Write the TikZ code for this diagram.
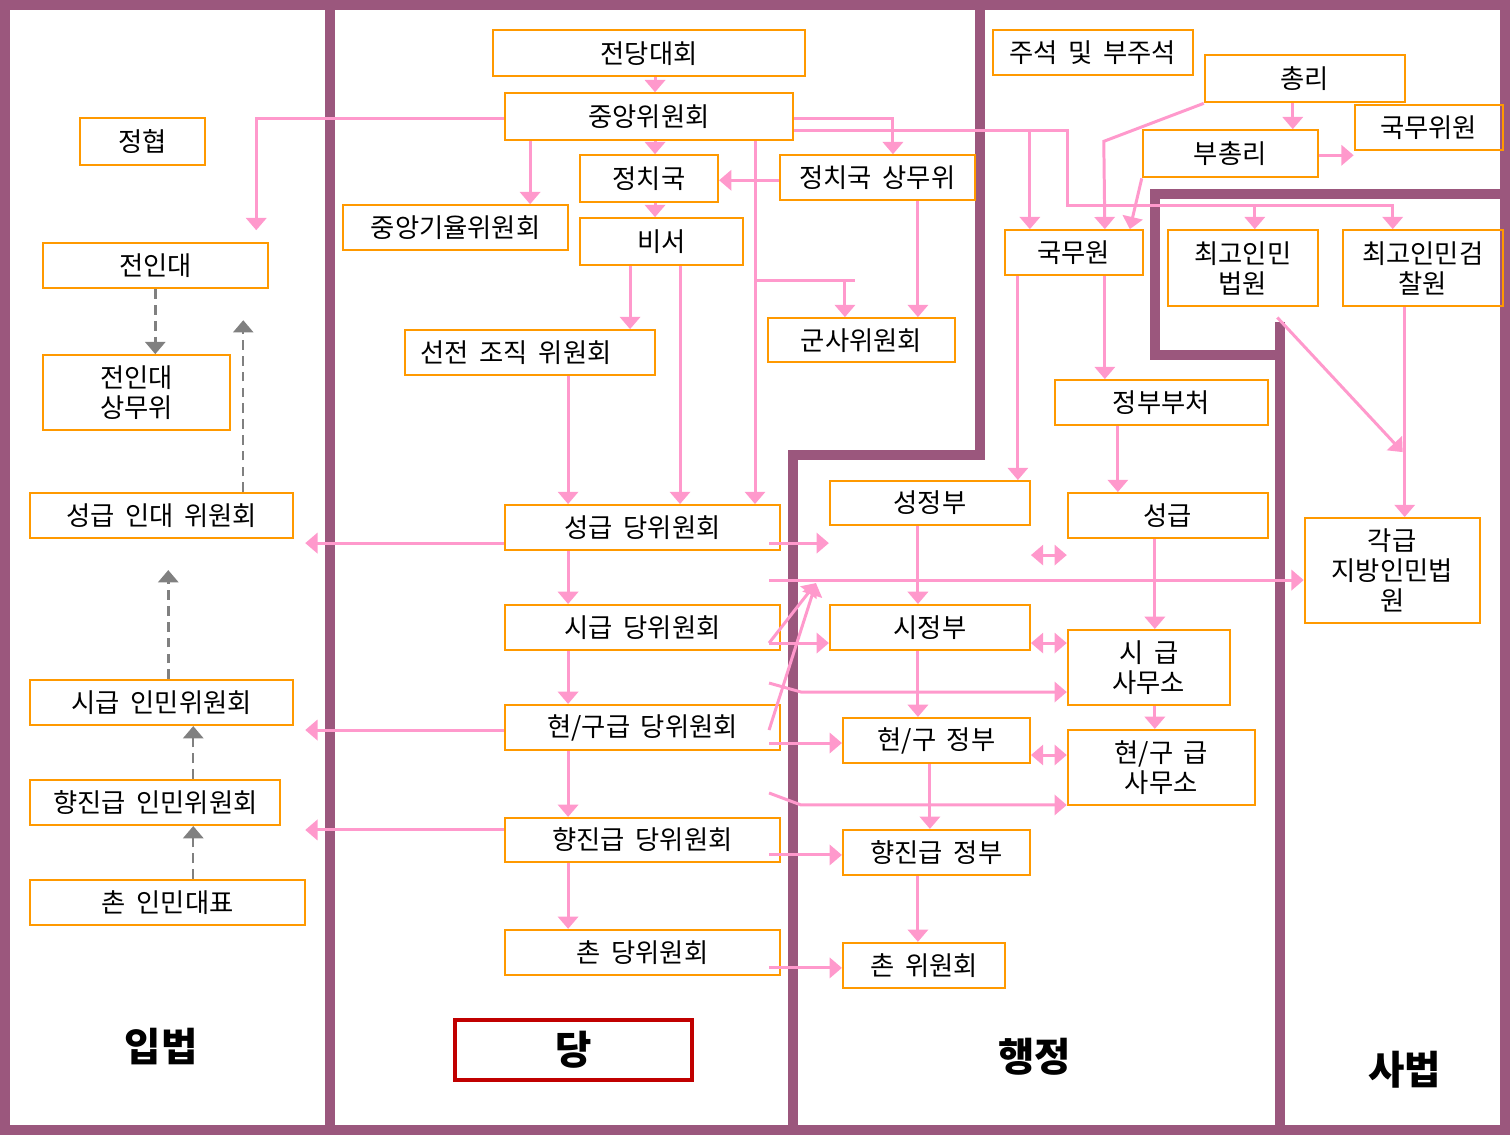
\documentclass[tikz,border=0pt]{standalone}
\usepackage{fontspec}
\setmainfont{Noto Sans CJK KR}[WordSpace=1.8]
\usepackage{tikz}
\usetikzlibrary{arrows.meta}

\definecolor{framepurple}{RGB}{155,87,125}
\definecolor{boxorange}{RGB}{255,153,0}
\definecolor{linkpink}{RGB}{255,153,204}
\definecolor{dashgray}{RGB}{128,128,128}
\definecolor{dangred}{RGB}{192,0,0}

\tikzset{
	box/.style={draw=boxorange, line width=1.2pt, inner sep=0pt, align=center, font=\fontsize{15pt}{17pt}\selectfont},
	branchlabel/.style={font=\fontsize{22.5pt}{26pt}\selectfont\bfseries},
	divider/.style={draw=framepurple, line width=5.7pt},
	pinkline/.style={draw=linkpink, line width=1.7pt},
	pinkarrow/.style={pinkline, -{Triangle[width=11.5pt,length=7pt]}},
	pinkboth/.style={pinkline, {Triangle[width=11.5pt,length=7pt]}-{Triangle[width=11.5pt,length=7pt]}},
	dasharrow/.style={draw=dashgray, line width=1.4pt, dash pattern=on 5.5pt off 3.5pt, -{Triangle[width=11.5pt,length=7pt]}},
}

\begin{document}
\begin{tikzpicture}[x=0.02cm, y=-0.02cm]
		\draw[use as bounding box, transparent] (0,0) rectangle (1510,1135);

		% Define the macro.
		% 1st argument: Name of the box.
		% 2nd and 3rd argument: Centre of the box (pixels, y downwards).
		% 4th and 5th argument: Width and height of the box.
		% 6th argument: Text inside the box.
		\newcommand{\orgBox}[6]{
			\node[box, minimum width=#4*0.02cm, minimum height=#5*0.02cm] (#1) at (#2,#3) {#6};
		}

		% FRAME
		\draw[divider] (5,5) rectangle (1505,1130);
		\draw[divider] (330,5) -- (330,1130);
		\draw[divider] (980,5) -- (980,455) -- (793,455) -- (793,1130);
		\draw[divider] (1505,194) -- (1155,194) -- (1155,355) -- (1280,355);
		\draw[divider] (1280,322) -- (1280,1130);

		% LEGISLATURE
		\orgBox{jeonghyeop}{142.5}{141.5}{125}{47}{정협}
		\orgBox{jeonindae}{155.5}{265.5}{225}{45}{전인대}
		\orgBox{indaesangmu}{136.5}{392.5}{187}{75}{전인대\\상무위}
		\orgBox{indae1}{161.5}{515.5}{263}{45}{성급 인대 위원회}
		\orgBox{inmin2}{161.5}{702.5}{263}{45}{시급 인민위원회}
		\orgBox{inmin3}{155}{802.5}{250}{45}{향진급 인민위원회}
		\orgBox{inmin4}{167.5}{902.5}{275}{45}{촌 인민대표}
		\node[branchlabel] (ipbeop) at (161,1047) {입법};

		% PARTY
		\orgBox{jeondang}{649}{53}{312}{46}{전당대회}
		\orgBox{jungang}{649}{116.5}{288}{47}{중앙위원회}
		\orgBox{jeongchi}{649}{178.5}{138}{47}{정치국}
		\orgBox{sangmu}{877.5}{177.5}{195}{45}{정치국 상무위}
		\orgBox{giyul}{455.5}{227.5}{225}{45}{중앙기율위원회}
		\orgBox{biseo}{661.5}{241.5}{163}{47}{비서}
		\orgBox{seonjeon}{530}{352.5}{250}{45}{선전 조직 위원회\hspace{0.56cm}}
		\orgBox{gunsa}{861.5}{340}{187}{44}{군사위원회}
		\orgBox{dang1}{642.5}{527.5}{275}{45}{성급 당위원회}
		\orgBox{dang2}{642.5}{627.5}{275}{45}{시급 당위원회}
		\orgBox{dang3}{642.5}{727.5}{275}{45}{현/구급 당위원회}
		\orgBox{dang4}{642.5}{840}{275}{44}{향진급 당위원회}
		\orgBox{dang5}{642.5}{952.5}{275}{45}{촌 당위원회}
		\node[draw=dangred, line width=2.2pt, minimum width=237*0.02cm, minimum height=60*0.02cm, branchlabel] (danglabel) at (573.5,1050) {당};

		% ADMINISTRATION
		\orgBox{juseok}{1093}{52.5}{200}{45}{주석 및 부주석}
		\orgBox{chongri}{1305}{78.5}{200}{47}{총리}
		\orgBox{gukmuwiwon}{1429}{127.5}{148}{45}{국무위원}
		\orgBox{buchongri}{1230.5}{153.5}{175}{47}{부총리}
		\orgBox{gukmuwon}{1074}{252.5}{138}{45}{국무원}
		\orgBox{bucheo}{1161.5}{402.5}{213}{45}{정부부처}
		\orgBox{seongjeongbu}{930}{503}{200}{44}{성정부}
		\orgBox{seonggeup}{1168}{515.5}{200}{45}{성급}
		\orgBox{sijeongbu}{930}{627.5}{200}{45}{시정부}
		\orgBox{sisamuso}{1149}{667.5}{162}{75}{시 급\\사무소}
		\orgBox{hyeonjeongbu}{936.5}{740.5}{187}{45}{현/구 정부}
		\orgBox{hyeonsamuso}{1161.5}{767.5}{187}{75}{현/구 급\\사무소}
		\orgBox{hyangjeongbu}{936.5}{852.5}{187}{45}{향진급 정부}
		\orgBox{chonwiwon}{924}{965.5}{162}{45}{촌 위원회}
		\node[branchlabel] (haengjeong) at (1035,1057) {행정};

		% JUDICIARY
		\orgBox{beobwon}{1243}{268}{150}{76}{최고인민\\법원}
		\orgBox{geomchal}{1423}{268}{160}{76}{최고인민검\\찰원}
		\orgBox{jibang}{1392.5}{570.5}{175}{105}{각급\\지방인민법\\원}
		\node[branchlabel] (sabeop) at (1405,1070) {사법};

		% Free ends and bends of the links
		\coordinate (toJeonin) at (256,230);
		\coordinate (armyJoin) at (755,280);
		\coordinate (armyEnd) at (855,280);
		\coordinate (leftEnd) at (305,0);
		\coordinate (meetPoint) at (816,583);
		\coordinate (govJoin) at (1068,130);
		\coordinate (govTurn) at (1068,205);
		\coordinate (courtDrop) at (1403,452);
		\coordinate (upEnd1) at (243,320);
		\coordinate (upEnd2) at (168,570);
		\foreach \n in {1,...,5}
			\coordinate (o\n) at ([xshift=-0.24cm]dang\n.east);

		% PARTY LINKS
		\draw[pinkarrow] (jeondang.south -| 655,0) -- (jungang.north -| 655,0);
		\draw[pinkarrow] (jungang.south -| 655,0) -- (jeongchi.north -| 655,0);
		\draw[pinkarrow] (jeongchi.south -| 655,0) -- (biseo.north -| 655,0);
		\draw[pinkarrow] (jungang.west |- 0,118) -| (toJeonin);
		\draw[pinkarrow] (jungang.south -| 530,0) -- (giyul.north -| 530,0);
		\draw[pinkarrow] (jungang.east |- 0,118) -| (sangmu.north -| 893,0);
		\draw[pinkarrow] (sangmu.west |- 0,180) -- (jeongchi.east |- 0,180);
		\draw[pinkarrow] (sangmu.south -| 918,0) -- (gunsa.north -| 918,0);
		\draw[pinkarrow] (jungang.south -| 755,0) -- (dang1.north -| 755,0);
		\draw[pinkline] (armyJoin) -- (armyEnd);
		\draw[pinkarrow] (armyJoin -| 845,0) -- (gunsa.north -| 845,0);
		\draw[pinkarrow] (biseo.south -| 630,0) -- (seonjeon.north -| 630,0);
		\draw[pinkarrow] (biseo.south -| 680,0) -- (dang1.north -| 680,0);
		\draw[pinkarrow] (seonjeon.south -| 568,0) -- (dang1.north -| 568,0);
		\foreach \a/\b in {dang1/dang2, dang2/dang3, dang3/dang4, dang4/dang5}
			\draw[pinkarrow] (\a.south -| 568,0) -- (\b.north -| 568,0);

		% party -> legislature
		\foreach \n/\y in {dang1/543, dang3/730, dang4/830}
			\draw[pinkarrow] (\n.west |- 0,\y) -- (leftEnd |- 0,\y);

		% party -> administration
		\draw[pinkarrow] (o1 |- 0,543) -- (seongjeongbu.west |- 0,543);
		\draw[pinkarrow] (o1 |- 0,580) -- (jibang.west |- 0,580);
		\draw[pinkarrow] (o2 |- 0,643) -- (sijeongbu.west |- 0,643);
		\draw[pinkarrow] (o3 |- 0,743) -- (hyeonjeongbu.west |- 0,743);
		\draw[pinkarrow] (o4 |- 0,855) -- (hyangjeongbu.west |- 0,855);
		\draw[pinkarrow] (o5 |- 0,968) -- (chonwiwon.west |- 0,968);
		\draw[pinkarrow] (o2 |- 0,643) -- (meetPoint);
		\draw[pinkarrow] (o3 |- 0,730) -- (meetPoint);
		\draw[pinkarrow] (o2 |- 0,683) -- ++(32,9) -- (sisamuso.west |- 0,692);
		\draw[pinkarrow] (o3 |- 0,793) -- ++(32,12) -- (hyeonsamuso.west |- 0,805);

		% ADMINISTRATION LINKS
		\draw[pinkarrow] (jungang.east |- 0,130) -- (govJoin) -- (govTurn) -| (geomchal.north -| 1393,0);
		\draw[pinkarrow] (govJoin -| 1030,0) -- (gukmuwon.north -| 1030,0);
		\draw[pinkarrow] (govTurn -| 1255,0) -- (beobwon.north -| 1255,0);
		\draw[pinkarrow] (chongri.south west) -- ++(-100,38) -- (gukmuwon.north -| 1105,0);
		\draw[pinkarrow] (chongri.south -| 1293,0) -- (buchongri.north -| 1293,0);
		\draw[pinkarrow] (buchongri.east |- 0,155) -- (gukmuwiwon.west |- 0,155);
		\draw[pinkarrow] (buchongri.south west) -- (gukmuwon.north -| 1130,0);
		\draw[pinkarrow] (gukmuwon.south -| 1018,0) -- (seongjeongbu.north -| 1018,0);
		\draw[pinkarrow] (gukmuwon.south -| 1105,0) -- (bucheo.north -| 1105,0);
		\draw[pinkarrow] (bucheo.south -| 1118,0) -- (seonggeup.north -| 1118,0);
		\draw[pinkarrow] (seonggeup.south -| 1155,0) -- (sisamuso.north -| 1155,0);
		\draw[pinkarrow] (sisamuso.south -| 1155,0) -- (hyeonsamuso.north -| 1155,0);
		\draw[pinkarrow] (seongjeongbu.south -| 918,0) -- (sijeongbu.north -| 918,0);
		\draw[pinkarrow] (sijeongbu.south -| 918,0) -- (hyeonjeongbu.north -| 918,0);
		\draw[pinkarrow] (hyeonjeongbu.south -| 930,0) -- (hyangjeongbu.north -| 930,0);
		\draw[pinkarrow] (hyangjeongbu.south -| 918,0) -- (chonwiwon.north -| 918,0);
		\draw[pinkboth] (seongjeongbu.east |- 0,555) -- (seonggeup.west |- 0,555);
		\draw[pinkboth] (sijeongbu.east |- 0,643) -- (sisamuso.west |- 0,643);
		\draw[pinkboth] (hyeonjeongbu.east |- 0,755) -- (hyeonsamuso.west |- 0,755);

		% JUDICIARY LINKS
		\draw[pinkarrow] (geomchal.south -| 1405,0) -- (jibang.north -| 1405,0);
		\draw[pinkarrow, shorten <=0.28cm] (beobwon.south -| 1268,0) -- (courtDrop);

		% LEGISLATURE LINKS
		\draw[dasharrow] (jeonindae.south -| 155,0) -- (indaesangmu.north -| 155,0);
		\draw[dasharrow] (indae1.north -| 243,0) -- (upEnd1);
		\draw[dasharrow] (inmin2.north -| 168,0) -- (upEnd2);
		\draw[dasharrow] (inmin3.north -| 193,0) -- (inmin2.south -| 193,0);
		\draw[dasharrow] (inmin4.north -| 193,0) -- (inmin3.south -| 193,0);

\end{tikzpicture}
\end{document}
